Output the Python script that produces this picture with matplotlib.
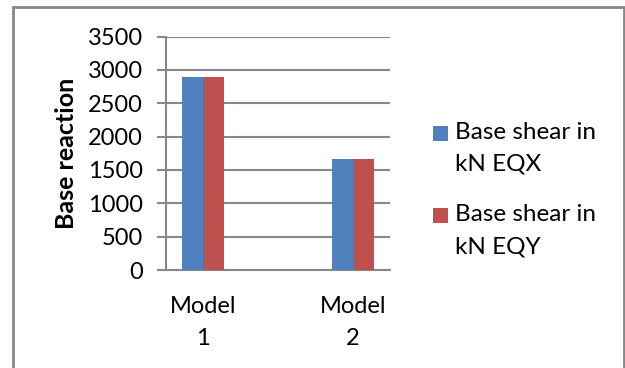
import numpy as np
import matplotlib.pyplot as plt
from matplotlib.patches import Rectangle
from matplotlib.container import BarContainer
from matplotlib.legend_handler import HandlerPatch, update_from_first_child

plt.rcParams['font.family'] = ['Lato', 'DejaVu Sans']

models = ["Model\n1", "Model\n2"]
shear_eqx = [2900, 1665]
shear_eqy = [2900, 1665]
series_names = ["Base shear in\nkN EQX", "Base shear in\nkN EQY"]
yticks = [0, 500, 1000, 1500, 2000, 2500, 3000, 3500]


# legend square sits next to the first line of a two-line label
def top_square(legend, orig_handle, xdescent, ydescent, width, height, fontsize):
    s = 0.62 * fontsize
    yc = -ydescent + height / 2 + 0.61 * fontsize
    return Rectangle((-xdescent, yc - s / 2), s, s)


fig = plt.figure(figsize=(6.25, 3.68), dpi=100)
ax = fig.add_axes([0.2656, 0.2663, 0.3584, 0.6345])

x = np.arange(len(models))
w = 0.143
ax.bar(x - w / 2, shear_eqx, w, color="#4F81BD", label=series_names[0], zorder=3)
ax.bar(x + w / 2, shear_eqy, w, color="#C0504D", label=series_names[1], zorder=3)

ax.set_xlim(-0.247, 1.247)
ax.set_ylim(0, 3500)
ax.set_yticks(yticks)
ax.set_xticks(x)
ax.set_xticklabels(models, fontsize=17, linespacing=1.6)
ax.tick_params(axis="y", labelsize=17, length=6.5, width=1.5, color="#888888", pad=10)
ax.tick_params(axis="x", length=0, pad=19)
ax.yaxis.grid(True, color="#888888", linewidth=1.5, zorder=0)

for side in ["top", "right"]:
    ax.spines[side].set_visible(False)
for side in ["left", "bottom"]:
    ax.spines[side].set_color("#888888")
    ax.spines[side].set_linewidth(1.5)

ax.set_ylabel("Base reaction", fontsize=18, fontweight="bold", labelpad=7)

square = HandlerPatch(patch_func=top_square, update_func=update_from_first_child)
leg = ax.legend(loc="center left", bbox_to_anchor=(1.15, 0.345), frameon=False,
                fontsize=17.5, handlelength=0.62, handleheight=0.7, handletextpad=0.29,
                labelspacing=1.2, borderaxespad=0,
                handler_map={BarContainer: square})
for t in leg.get_texts():
    t.set_linespacing(1.65)

# grey outer frame around the whole chart
fig.patches.append(Rectangle((13 / 625, -0.1), (624 - 13) / 625, 1.1 - 7 / 368,
                             transform=fig.transFigure, fill=False,
                             edgecolor="#888888", linewidth=2, clip_on=False))

fig.savefig("out.png", dpi=100)
